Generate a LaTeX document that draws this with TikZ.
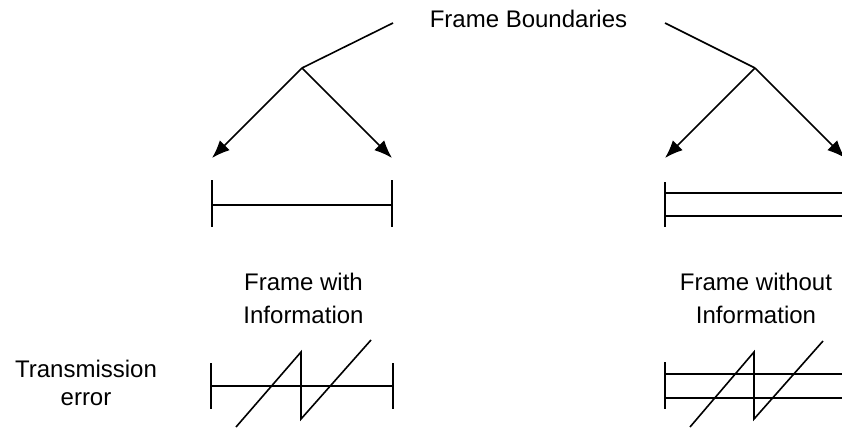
\documentclass[tikz,border=0pt]{standalone}
\usepackage{fontspec}
\setmainfont{Liberation Sans}
\usetikzlibrary{arrows.meta, positioning}

\begin{document}
\begin{tikzpicture}[x=1pt, y=-1pt, line width=1.6pt,
    >={Latex[length=18pt, width=14pt]},
    lbl/.style={inner sep=0pt, align=center, font=\fontsize{24}{33}\selectfont}]
    % 0. Khung hình
    \useasboundingbox (0,0) rectangle (842,428);
    \clip (0,0) rectangle (842,428);

    % 1. Nhãn "Frame Boundaries" và các đường dẫn
    \node[lbl, anchor=base] (fb) at (528.5,28) {Frame Boundaries};
    \coordinate (fbL) at (393,23);
    \coordinate (fbR) at (665,23);
    \coordinate (apexL) at (302,68);
    \coordinate (apexR) at (755,68);
    \coordinate (tipLL) at (212,158);
    \coordinate (tipLR) at (392,158);
    \coordinate (tipRL) at (665,158);
    \coordinate (tipRR) at (845,158);
    \draw (fbL) -- (apexL);
    \draw (fbR) -- (apexR);
    \draw[->] (apexL) -- (tipLL);
    \draw[->] (apexL) -- (tipLR);
    \draw[->] (apexR) -- (tipRL);
    \draw[->] (apexR) -- (tipRR);

    % 2. Khung có thông tin (một đường)
    \draw (212,180) -- (212,227);
    \draw (392,180) -- (392,227);
    \draw (212,205) -- (392,205);

    % 3. Khung không có thông tin (hai đường)
    \draw (665,182) -- (665,227);
    \draw (665,193) -- (845,193);
    \draw (665,216) -- (845,216);

    % 4. Nhãn giữa
    \node[lbl] (fwith) at (303.5,298) {Frame with\\Information};
    \node[lbl] (fwithout) at (756,298) {Frame without\\Information};
    \node[lbl, font=\fontsize{24}{28}\selectfont] (terr) at (86,382.75) {Transmission\\error};

    % 5. Lỗi truyền: khung có thông tin
    \draw (211,363) -- (211,409);
    \draw (393,363) -- (393,409);
    \draw (211,386) -- (393,386);
    \draw (236,427) -- (301,352) -- (301,419) -- (371,340);

    % 6. Lỗi truyền: khung không có thông tin
    \draw (665,362) -- (665,409);
    \draw (665,374) -- (845,374);
    \draw (665,398) -- (845,398);
    \draw (690,427) -- (754,352) -- (754,419) -- (823,341);

\end{tikzpicture}
\end{document}
